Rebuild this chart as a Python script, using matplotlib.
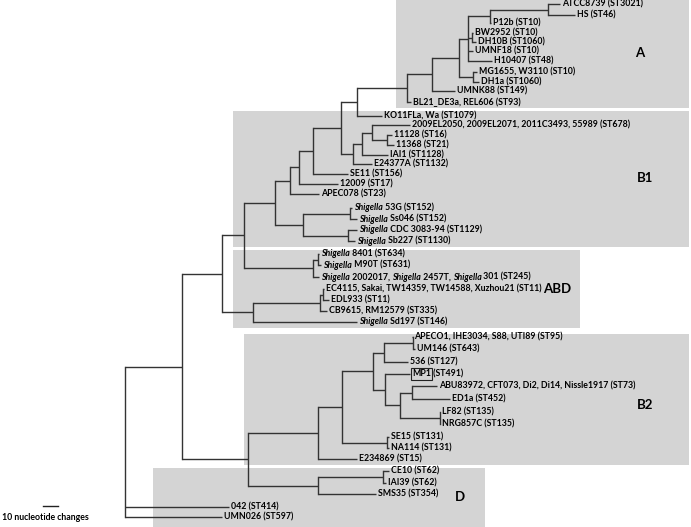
import re
import matplotlib
matplotlib.use('Agg')
import matplotlib.pyplot as plt
from matplotlib.patches import Rectangle

# leaf labels, top to bottom
leaf_names = [
    "ATCC8739 (ST3021)", "HS (ST46)", "P12b (ST10)", "BW2952 (ST10)", "DH10B (ST1060)",
    "UMNF18 (ST10)", "H10407 (ST48)", "MG1655, W3110 (ST10)", "DH1a (ST1060)", "UMNK88 (ST149)",
    "BL21_DE3a, REL606 (ST93)", "KO11FLa, Wa (ST1079)",
    "2009EL2050, 2009EL2071, 2011C3493, 55989 (ST678)", "11128 (ST16)", "11368 (ST21)",
    "IAI1 (ST1128)", "E24377A (ST1132)", "SE11 (ST156)", "12009 (ST17)", "APEC078 (ST23)",
    "Shigella 53G (ST152)", "Shigella Ss046 (ST152)", "Shigella CDC 3083-94 (ST1129)",
    "Shigella Sb227 (ST1130)", "Shigella 8401 (ST634)", "Shigella M90T (ST631)",
    "Shigella 2002017, Shigella 2457T, Shigella 301 (ST245)",
    "EC4115, Sakai, TW14359, TW14588, Xuzhou21 (ST11)", "EDL933 (ST11)", "CB9615, RM12579 (ST335)",
    "Shigella Sd197 (ST146)", "APECO1, IHE3034, S88, UTI89 (ST95)", "UM146 (ST643)", "536 (ST127)",
    "MP1 (ST491)", "ABU83972, CFT073, Di2, Di14, Nissle1917 (ST73)", "ED1a (ST452)", "LF82 (ST135)",
    "NRG857C (ST135)", "SE15 (ST131)", "NA114 (ST131)", "E234869 (ST15)", "CE10 (ST62)",
    "IAI39 (ST62)", "SMS35 (ST354)", "042 (ST414)", "UMN026 (ST597)",
]
# row position of each leaf
leaf_y = [4, 15, 23, 33, 42, 51, 61, 72, 82, 91, 102, 116, 125, 135, 145, 155, 164, 174, 184, 194,
          208, 219, 230, 241, 254, 265, 277, 289, 300, 311, 322, 337, 349, 362, 374, 386, 399, 412,
          424, 437, 448, 459, 471, 483, 494, 507, 517]
# depth of each tip
leaf_x = [560, 575, 491, 473, 476, 473, 492, 477, 479, 455, 411, 382, 410, 392, 394, 388, 372, 348,
          338, 319, 352, 357, 357, 355, 319, 321, 319, 324, 329, 327, 357, 412, 415, 408, 410, 437,
          450, 440, 440, 389, 389, 357, 389, 386, 376, 229, 222]

# internal nodes: [depth, child, child, ...]; ints are leaf indices
tree = [125,
        [182,
         [222,
          [244,
           [275,
            [290,
             [299,
              [313,
               [341,
                [357,
                 [407,
                  [432,
                   [459,
                    [468, [490, [548, 0, 1], 2], [472, 3, 4], 5, 6],
                    [473, 7, 8]],
                   9],
                  10],
                 11],
                [353, [362, [372, 12, [387, 13, 14]], 15], 16]],
               17],
              18],
             19],
            [303, [350, 20, 21], [348, 22, 23]]],
           [313, [318, 24, 25], 26]],
          [253, [320, [323, 27, 28], 29], 30]],
         [248,
          [318,
           [342,
            [373,
             [384, [413, 31, 32], 33],
             [385, 34, [400, [412, 35, 36], [440, 37, 38]]]],
            [387, 39, 40]],
           41],
          [318, [383, 42, 43], 44]]],
        45, 46]

clade_names = ["A", "B1", "ABD", "B2", "D"]
clade_boxes = [(396, 0, 689, 108), (233, 111, 689, 247), (233, 250, 580, 328),
               (244, 334, 689, 465), (153, 468, 485, 527)]
clade_label_pos = [(640, 53), (645, 178), (557, 289), (645, 405), (460, 497)]

line_col = '#333333'
font = 'Lato'

fig = plt.figure(figsize=(6.91, 5.27), dpi=100)
ax = fig.add_axes([0, 0, 1, 1])
ax.set_xlim(0, 691)
ax.set_ylim(527, 0)
ax.axis('off')

for (x0, y0, x1, y1) in clade_boxes:
    ax.add_patch(Rectangle((x0, y0), x1 - x0, y1 - y0, facecolor='#d4d4d4', edgecolor='none', zorder=0))
for name, (cx, cy) in zip(clade_names, clade_label_pos):
    ax.text(cx, cy, name, ha='center', va='center', fontsize=9.5, fontweight='bold', family=font)


def draw(node):
    # returns (x, y) of the node
    if isinstance(node, int):
        return leaf_x[node], leaf_y[node]
    x = node[0]
    pts = [draw(c) for c in node[1:]]
    ys = [p[1] for p in pts]
    for cx, cy in pts:
        ax.plot([x, cx], [cy, cy], color=line_col, lw=1.0, solid_capstyle='butt')
    ax.plot([x, x], [min(ys), max(ys)], color=line_col, lw=1.0, solid_capstyle='projecting')
    return x, (min(ys) + max(ys)) / 2


draw(tree)


def draw_label(x, y, text):
    prev = None
    for p in re.split(r'(Shigella|MP1)', text):
        if not p:
            continue
        kw = dict(fontsize=6.3, fontweight='bold', family=font, ha='left',
                  style='italic' if p == 'Shigella' else 'normal')
        if p == 'MP1':
            kw['bbox'] = dict(boxstyle='square,pad=0.15', facecolor='none', edgecolor='#222222', lw=0.8)
        if prev is None:
            t = ax.text(x, y, p, va='center', **kw)
        else:
            t = ax.annotate(p, xy=(1, 0), xycoords=prev, va='bottom', **kw)
        prev = t


for name, x, y in zip(leaf_names, leaf_x, leaf_y):
    draw_label(x + 2, y, name)

# scale bar
ax.plot([43, 58], [506, 506], color='#222222', lw=1.0)
ax.text(45, 518, "10 nucleotide changes", ha='center', va='center', fontsize=6.3,
        fontweight='bold', family=font)

fig.savefig('out.png', dpi=100)
